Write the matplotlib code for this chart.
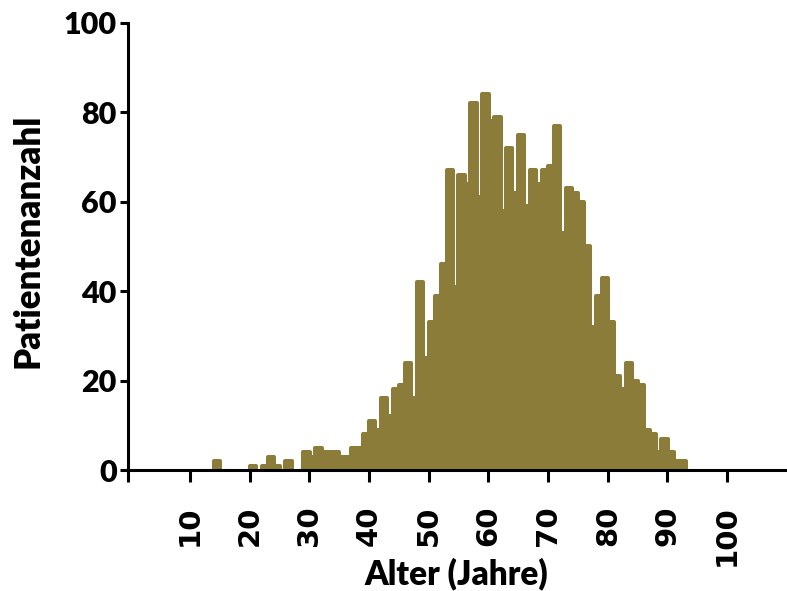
import matplotlib.pyplot as plt
import numpy as np

# Altersverteilung: Alter in Jahren (Klassenbeginn) und Anzahl Patienten
alter = [14, 20, 22, 23, 24, 26, 29, 30, 31, 32, 33, 34, 35, 36, 37, 38, 39,
         40, 41, 42, 43, 44, 45, 46, 47, 48, 49, 50, 51, 52, 53, 54, 55, 56,
         57, 58, 59, 60, 61, 62, 63, 64, 65, 66, 67, 68, 69, 70, 71, 72, 73,
         74, 75, 76, 77, 78, 79, 80, 81, 82, 83, 84, 85, 86, 87, 88, 89, 90,
         91, 92]
anzahl = [2, 1, 1, 3, 1, 2, 4, 3, 5, 4, 4, 4, 3, 3, 5, 5, 8,
          11, 9, 16, 12, 18, 19, 24, 16, 42, 25, 33, 39, 46, 67, 41, 66, 64,
          82, 61, 84, 78, 79, 58, 72, 62, 75, 59, 67, 64, 67, 68, 77, 53, 63,
          62, 60, 50, 32, 39, 43, 33, 21, 18, 24, 20, 19, 9, 8, 4, 7, 4,
          2, 2]
xticks = [10, 20, 30, 40, 50, 60, 70, 80, 90, 100]
yticks = [0, 20, 40, 60, 80, 100]

farbe = '#8b7d39'
schrift = 'Lato'
gewicht = 'heavy'

fig = plt.figure(figsize=(7.87, 5.91), dpi=100)
ax = fig.add_axes([128 / 787, 1 - 470 / 591, 657 / 787, 447.3 / 591])

# Balken leicht überlappend, runde Ecken über dicke Kante in Balkenfarbe
ax.bar(np.array(alter) + 0.5, anzahl, width=1.05, color=farbe,
       edgecolor=farbe, linewidth=2.9, joinstyle='round', zorder=1)

x0 = -0.42
ax.set_xlim(x0, 109.7)
ax.set_ylim(0, 100)

for s in ['top', 'right']:
    ax.spines[s].set_visible(False)
for s in ['left', 'bottom']:
    ax.spines[s].set_linewidth(2.2)
    ax.spines[s].set_zorder(3)

ax.set_xticks([x0] + xticks)
ax.set_xticklabels([''] + [str(t) for t in xticks], rotation=90,
                   fontfamily='DejaVu Sans', fontweight='bold', fontsize=21)
ax.set_yticks(yticks)
ax.set_yticklabels([str(t) for t in yticks], fontfamily=schrift,
                   fontweight=gewicht, fontsize=22)
ax.tick_params(axis='x', length=8.5, width=2.2, pad=17)
ax.tick_params(axis='y', length=6, width=2.2, pad=2)

ax.set_xlabel('Alter (Jahre)', fontfamily=schrift, fontweight=gewicht,
              fontsize=24, va='center')
ax.xaxis.set_label_coords(0.5, -0.232)
ax.set_ylabel('Patientenanzahl', fontfamily=schrift, fontweight=gewicht,
              fontsize=25, va='center')
ax.yaxis.set_label_coords(-0.152, 0.512)

fig.savefig('out.png', dpi=100)
